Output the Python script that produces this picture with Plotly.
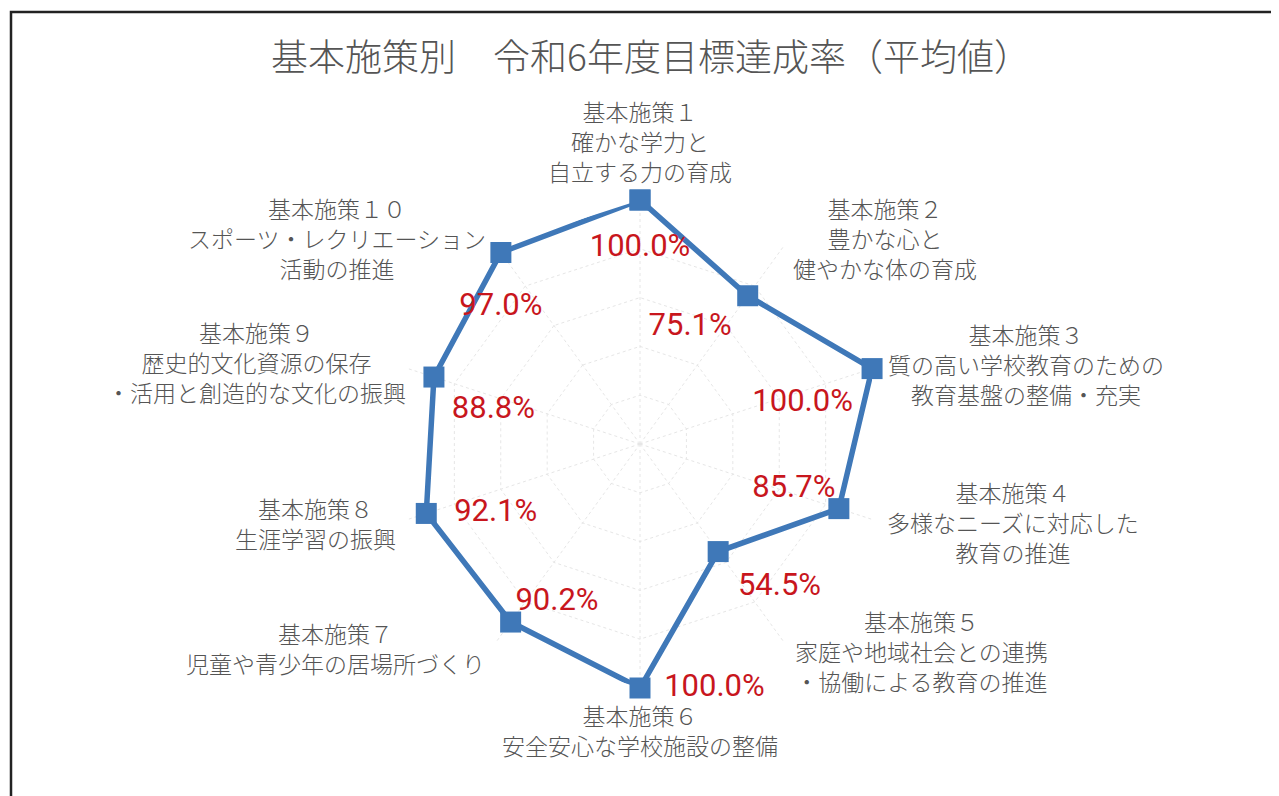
import plotly.graph_objects as go

# The page body adds an 8px margin, so the figure is made 8px smaller and
# pixel positions (taken from the 1279x796 reference) are shifted by 8px.
OFF = 8
W, H = 1279 - OFF, 796 - OFF

title_text = "基本施策別　令和6年度目標達成率（平均値）"

categories = [
    "基本施策１<br>確かな学力と<br>自立する力の育成",
    "基本施策２<br>豊かな心と<br>健やかな体の育成",
    "基本施策３<br>質の高い学校教育のための<br>教育基盤の整備・充実",
    "基本施策４<br>多様なニーズに対応した<br>教育の推進",
    "基本施策５<br>家庭や地域社会との連携<br>・協働による教育の推進",
    "基本施策６<br>安全安心な学校施設の整備",
    "基本施策７<br>児童や青少年の居場所づくり",
    "基本施策８<br>生涯学習の振興",
    "基本施策９<br>歴史的文化資源の保存<br>・活用と創造的な文化の振興",
    "基本施策１０<br>スポーツ・レクリエーション<br>活動の推進",
]
values = [100.0, 75.1, 100.0, 85.7, 54.5, 100.0, 90.2, 92.1, 88.8, 97.0]
value_labels = ["100.0%", "75.1%", "100.0%", "85.7%", "54.5%",
                "100.0%", "90.2%", "92.1%", "88.8%", "97.0%"]

# styling of the value labels: side of the marker and spacing from it
label_positions = ["bottom center", "bottom left", "bottom left", "top left",
                   "bottom right", "middle right", "top right", "middle right",
                   "bottom right", "bottom center"]
label_spacing = [50, 24, 29, 4, 30, 37, 6, 43, 27, 61]

# category label placement (pixel centres in the reference, layout only)
cat_label_px = [(640, 141), (885, 238), (1026, 364), (1013, 522), (921, 651),
                (640, 730), (335, 648), (315, 523), (256, 362), (337, 238)]

theta_ids = [f"c{i}" for i in range(len(categories))]

fig = go.Figure()
fig.add_trace(go.Scatterpolar(
    r=values + values[:1],
    theta=theta_ids + theta_ids[:1],
    mode="lines+markers",
    line=dict(color="#3F78B8", width=5.5),
    marker=dict(symbol="square", size=21, color="#3F78B8"),
    hoverinfo="skip",
))
# value labels: invisible spacer markers push the text away from each point
fig.add_trace(go.Scatterpolar(
    r=values,
    theta=theta_ids,
    mode="markers+text",
    marker=dict(size=label_spacing, opacity=0),
    text=value_labels,
    textposition=label_positions,
    textfont=dict(family="Roboto, sans-serif", size=31, color="#C8161D"),
    cliponaxis=False,
    hoverinfo="skip",
))

cx, cy, rad = 640 - OFF, 444 - OFF, 244
fig.update_layout(
    width=W, height=H,
    margin=dict(l=0, r=0, t=0, b=0),
    paper_bgcolor="white",
    showlegend=False,
    polar=dict(
        bgcolor="rgba(0,0,0,0)",
        domain=dict(x=[(cx - rad) / W, (cx + rad) / W],
                    y=[(H - cy - rad) / H, (H - cy + rad) / H]),
        gridshape="linear",
        radialaxis=dict(range=[0, 100], dtick=20, showticklabels=False, ticks="",
                        showline=False, gridcolor="#e6e6e6", griddash="dot", gridwidth=1.2),
        angularaxis=dict(direction="clockwise", rotation=90, showticklabels=False, ticks="",
                         showline=False, gridcolor="#e6e6e6", griddash="dot", gridwidth=1.2,
                         categoryorder="array", categoryarray=theta_ids),
    ),
    title=dict(text=title_text, x=(651 - OFF) / W, xanchor="center",
               y=1 - (58 - OFF) / H, yanchor="middle",
               font=dict(family="Noto Sans CJK JP", size=37, color="#555555", weight=300)),
)

annotations = []
for txt, (px, py) in zip(categories, cat_label_px):
    annotations.append(dict(
        text=txt, x=(px - OFF) / W, y=1 - (py - OFF) / H, xref="paper", yref="paper",
        xanchor="center", yanchor="middle", align="center", showarrow=False,
        font=dict(family="Noto Sans CJK JP", size=23, color="#555555", weight=300),
    ))
fig.update_layout(annotations=annotations)

fig.add_shape(type="rect", xref="paper", yref="paper",
              x0=(11 - OFF) / W, x1=1.02, y0=-0.02, y1=1 - (12 - OFF) / H,
              line=dict(color="#222222", width=2.5), fillcolor="rgba(0,0,0,0)")

fig.write_html("out.html", config={"displayModeBar": False})
